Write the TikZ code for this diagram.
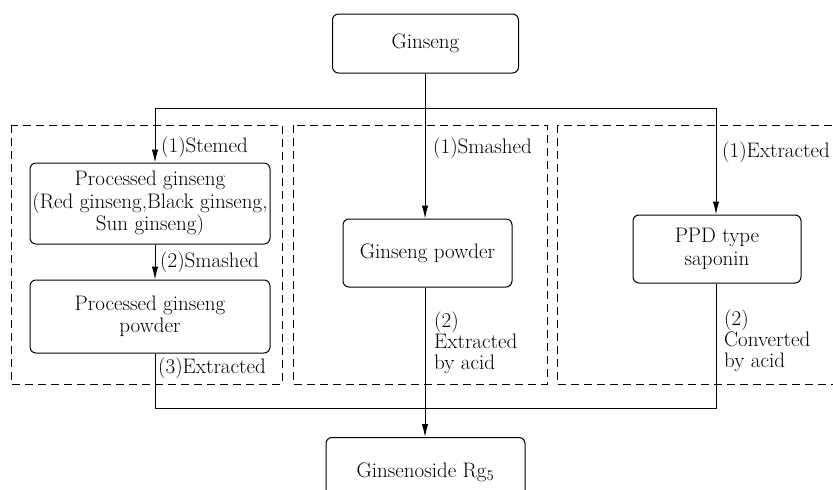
\documentclass[tikz,border=0pt]{standalone}
\usetikzlibrary{positioning}
\usetikzlibrary{arrows.meta}

\tikzset{
    stage/.style={draw, line width=1pt, rounded corners=6pt, align=center, inner sep=2pt},
    group/.style={draw, line width=0.9pt, dash pattern=on 8pt off 5pt},
    flow/.style={line width=1pt},
    step label/.style={anchor=west, align=left, inner sep=0pt, font=\fontsize{21}{21}\selectfont}
}

\begin{document}
\begin{tikzpicture}[x=1pt, y=-1pt, font=\fontsize{21}{22.5}\selectfont, >={Latex[length=13pt, width=6.5pt]}]
                \useasboundingbox (0,0) rectangle (833,490);
                \fill[white] (0,0) rectangle (833,490);

                % dashed groups
                \draw[group] (11,125) rectangle (282,384);
                \draw[group] (293,125) rectangle (547,384);
                \draw[group] (557,125) rectangle (845,384);

                \node(gs) [stage, minimum width=186pt, minimum height=59pt] at (425.5,43.5) {Ginseng};
                \node(pg) [stage, minimum width=240pt, minimum height=81pt] at (150,203.5) {Processed ginseng\\(Red ginseng,Black ginseng,\\Sun ginseng)};
                \node(pgp) [stage, minimum width=240pt, minimum height=73pt] at (150,316.5) {Processed ginseng\\powder};
                \node(gp) [stage, minimum width=169pt, minimum height=68pt] at (427.5,253) {Ginseng powder};
                \node(ppd) [stage, minimum width=168pt, minimum height=68pt] at (717,249) {PPD type\\saponin};
                \node(rg) [stage, minimum width=199pt, minimum height=70pt, anchor=north] at (425.5,437) {Ginsenoside Rg\textsubscript{5}};

                \coordinate(tl) at (155,108);
                \coordinate(tr) at (716,108);
                \coordinate(bl) at (155,408);
                \coordinate(br) at (716,408);

                \draw[flow] (tl) -- (tr);
                \draw[flow, ->] (tl) -- (tl |- pg.north);
                \draw[flow, ->] (gs.south -| 425,0) -- (gp.north -| 425,0);
                \draw[flow, ->] (tr) -- (tr |- ppd.north);
                \draw[flow, ->] (pg.south -| tl) -- (pgp.north -| tl);

                \draw[flow] (pgp.south -| bl) -- (bl) -- (br) -- (ppd.south -| br);
                \draw[flow] (gp.south -| 425,0) -- (425,408);
                \draw[flow, ->] (425,408) -- (rg.north -| 425,0);

                \node(s1) [step label] at (161,147) {(1)Stemed};
                \node(s2) [step label] at (160,262) {(2)Smashed};
                \node(s3) [step label] at (158,368) {(3)Extracted};
                \node(m1) [step label] at (433,148) {(1)Smashed};
                \node(m2) [step label] at (434,343) {(2)\\Extracted\\by acid};
                \node(r1) [step label] at (722,152) {(1)Extracted};
                \node(r2) [step label] at (724,341) {(2)\\Converted\\by acid};
            \end{tikzpicture}
\end{document}
